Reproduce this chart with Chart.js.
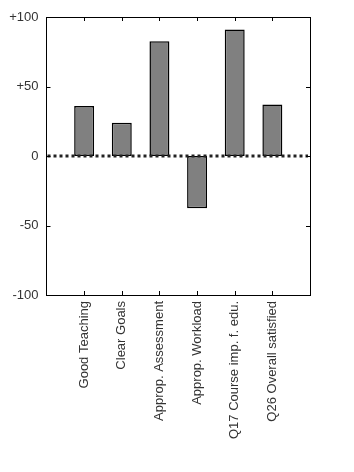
<!DOCTYPE html>
<html>
<head>
<meta charset="utf-8">
<script src="https://cdn.jsdelivr.net/npm/chart.js@4"></script>
<style>
  html, body { margin: 0; padding: 0; background: #fff; }
  #wrap { width: 354px; height: 472px; }
</style>
</head>
<body>
<div id="wrap"><canvas id="grafico" width="354" height="472"></canvas></div>
<script>
// blank slots at both ends so the 6 bars sit on a 0..7 grid
const categorias = ["", "Good Teaching", "Clear Goals", "Approp. Assessment", "Approp. Workload", "Q17 Course imp. f. edu.", "Q26 Overall satisfied", ""];
const valores = [null, 36, 24, 82.5, -37.5, 91, 37, null];
const yTicks = [-100, -50, 0, 50, 100];

const eixoX = 46.5, eixoTopo = 17, eixoBase = 295, eixoDir = 310;

// inward tick marks + dotted zero line
const extras = {
  id: "extras",
  afterDatasetsDraw(chart) {
    const c = chart.ctx, a = chart.chartArea;
    const x = chart.scales.x, y = chart.scales.y;
    const y0 = y.getPixelForValue(0);
    c.save();
    c.strokeStyle = "#222";
    c.lineWidth = 3;
    c.setLineDash([3, 3]);
    c.beginPath();
    c.moveTo(a.left + 1, y0);
    c.lineTo(a.right - 2, y0);
    c.stroke();
    c.setLineDash([]);
    c.strokeStyle = "#000";
    c.lineWidth = 1;
    c.beginPath();
    for (let i = 1; i < categorias.length - 1; i++) {
      const px = Math.round(x.getPixelForValue(i)) + 0.5;
      c.moveTo(px, a.bottom); c.lineTo(px, a.bottom - 4);
      c.moveTo(px, a.top); c.lineTo(px, a.top + 4);
    }
    yTicks.forEach(v => {
      const py = Math.round(y.getPixelForValue(v)) + 0.5;
      c.moveTo(a.left, py); c.lineTo(a.left + 4, py);
      c.moveTo(a.right, py); c.lineTo(a.right - 4, py);
    });
    c.stroke();
    c.restore();
  }
};

new Chart(document.getElementById("grafico"), {
  type: "bar",
  data: {
    labels: categorias,
    datasets: [{
      data: valores,
      backgroundColor: "#808080",
      borderColor: "#000",
      borderWidth: 1.5,
      borderSkipped: false,
      barPercentage: 0.53,
      categoryPercentage: 1
    }]
  },
  options: {
    responsive: false,
    animation: false,
    devicePixelRatio: 1,
    layout: { padding: { top: eixoTopo, right: 354 - eixoDir, left: 0, bottom: 0 } },
    plugins: { legend: { display: false }, tooltip: { enabled: false } },
    scales: {
      x: {
        offset: false,
        min: 0,
        max: categorias.length - 1,
        grid: { display: false, drawTicks: false },
        border: { display: true, color: "#000", width: 1 },
        afterFit: s => { s.height = 472 - eixoBase; },
        ticks: {
          autoSkip: false,
          minRotation: 90,
          maxRotation: 90,
          padding: 6,
          color: "#333",
          font: { family: "Liberation Sans, Arial", size: 13 }
        }
      },
      y: {
        min: -100,
        max: 100,
        afterFit: s => { s.width = eixoX; },
        afterBuildTicks: s => { s.ticks = yTicks.map(v => ({ value: v })); },
        grid: { display: false, drawTicks: false },
        border: { display: true, color: "#000", width: 1 },
        ticks: {
          padding: 8,
          color: "#333",
          font: { family: "Liberation Sans, Arial", size: 13 },
          callback: v => v > 0 ? "+" + v : String(v)
        }
      },
      yDir: {
        position: "right",
        min: -100, max: 100,
        grid: { display: false, drawTicks: false },
        border: { display: true, color: "#000", width: 1 },
        ticks: { display: false },
        afterFit: s => { s.width = 0; }
      },
      xTop: {
        position: "top",
        type: "category",
        labels: categorias,
        grid: { display: false, drawTicks: false },
        border: { display: true, color: "#000", width: 1 },
        ticks: { display: false },
        afterFit: s => { s.height = 0; }
      }
    }
  },
  plugins: [extras]
});
</script>
</body>
</html>
